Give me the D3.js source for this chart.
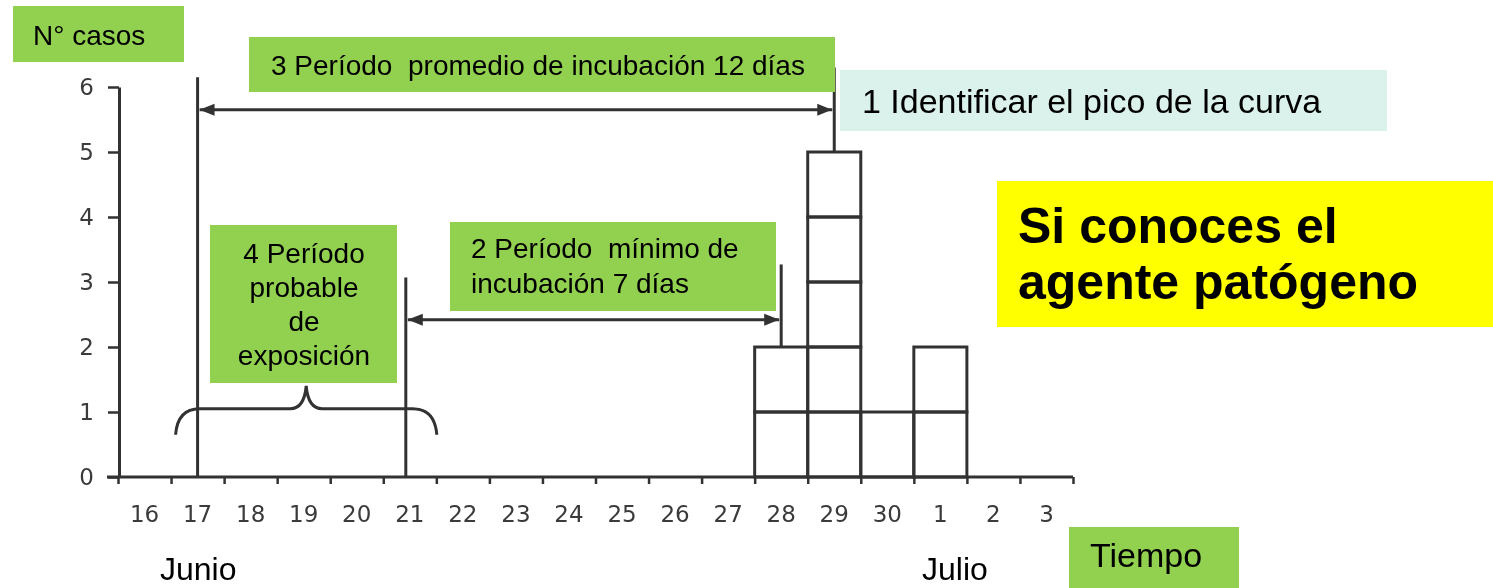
<!DOCTYPE html>
<html>
<head>
<meta charset="utf-8">
<script src="https://cdn.jsdelivr.net/npm/d3@7"></script>
<style>
  html, body { margin: 0; padding: 0; background: #fff; }
  svg { display: block; }
  text { font-family: "Liberation Sans", Arial, sans-serif; }
</style>
</head>
<body>
<svg id="chart" width="1493" height="588"></svg>
<script>
// Days of the outbreak (June 16 – July 3)
const categories = ["16","17","18","19","20","21","22","23","24","25","26","27","28","29","30","1","2","3"];
// Number of cases by day of onset
const cases = [0,0,0,0,0,0,0,0,0,0,0,0,2,5,1,2,0,0];
// Y axis ticks
const yTicks = [0,1,2,3,4,5,6];
// Key days used by the annotations
const exposureStart = "17";
const exposureEnd = "21";
const firstCaseDay = "28";
const peakDay = "29";

const svg = d3.select("#chart");
const ink = "#333";
const axisFont = "DejaVu Sans, Verdana, sans-serif";

const x = d3.scaleBand().domain(categories).range([118, 1073]).paddingInner(0).paddingOuter(0);
const xEdge = d3.scaleLinear().domain([0, categories.length]).range([118, 1073]);
const y = d3.scaleLinear().domain([0, 6]).range([477, 87]);
const cx = d => x(d) + x.bandwidth() / 2;

// soft look of the plotted part
const defs = svg.append("defs");
defs.append("filter").attr("id", "soft")
  .append("feGaussianBlur").attr("stdDeviation", 0.7);
defs.append("marker")
  .attr("id", "arrow")
  .attr("viewBox", "0 0 10 10")
  .attr("refX", 10).attr("refY", 5)
  .attr("markerWidth", 5).attr("markerHeight", 5)
  .attr("markerUnits", "strokeWidth")
  .attr("orient", "auto-start-reverse")
  .append("path").attr("d", "M0,1 L10,5 L0,9 Z").attr("fill", ink);

const plot = svg.append("g").attr("filter", "url(#soft)");

// X axis: ticks on day boundaries, labels centred on each day
const xTickAxis = plot.append("g").attr("transform", `translate(0,${y(0)})`)
  .call(d3.axisBottom(xEdge).tickValues(d3.range(categories.length + 1)).tickFormat("").tickSize(7).tickSizeOuter(0));
xTickAxis.select(".domain").remove();
plot.append("line")
  .attr("x1", 107).attr("x2", xEdge(categories.length))
  .attr("y1", y(0)).attr("y2", y(0))
  .attr("stroke", ink).attr("stroke-width", 3);
xTickAxis.selectAll(".tick line").attr("stroke", ink).attr("stroke-width", 2.5);

const xLabelAxis = plot.append("g").attr("transform", `translate(0,${y(0)})`)
  .call(d3.axisBottom(x).tickSize(0).tickPadding(29));
xLabelAxis.attr("font-size", null).attr("font-family", null);
xLabelAxis.select(".domain").remove();
xLabelAxis.selectAll("text")
  .style("font-size", "23px").style("font-family", axisFont)
  .attr("fill", "#3a3a3a");

// Y axis
const yAxis = plot.append("g").attr("transform", "translate(119,0)")
  .call(d3.axisLeft(y).tickValues(yTicks).tickFormat(d3.format("d")).tickSize(11).tickSizeOuter(0).tickPadding(14));
yAxis.attr("font-size", null).attr("font-family", null);
yAxis.select(".domain").attr("stroke", ink).attr("stroke-width", 3);
yAxis.selectAll(".tick line").attr("stroke", ink).attr("stroke-width", 2.5);
yAxis.selectAll("text")
  .style("font-size", "23px").style("font-family", axisFont)
  .attr("fill", "#3a3a3a");

// Histogram: one square per case
const squares = [];
categories.forEach((c, i) => {
  for (let k = 0; k < cases[i]; k++) squares.push({ day: c, k });
});
plot.append("g").selectAll("rect").data(squares).join("rect")
  .attr("x", d => x(d.day))
  .attr("y", d => y(d.k + 1))
  .attr("width", x.bandwidth())
  .attr("height", d => y(d.k) - y(d.k + 1))
  .attr("fill", "none")
  .attr("stroke", ink).attr("stroke-width", 3);

const line = (x1, y1, x2, y2, arrows) => {
  const l = plot.append("line")
    .attr("x1", x1).attr("y1", y1).attr("x2", x2).attr("y2", y2)
    .attr("stroke", ink).attr("stroke-width", 3);
  if (arrows) l.attr("marker-start", "url(#arrow)").attr("marker-end", "url(#arrow)");
  return l;
};

// Exposure window limits
line(cx(exposureStart), y(6.15), cx(exposureStart), y(0));
line(cx(exposureEnd) - 4, y(3.07), cx(exposureEnd) - 4, y(0));
// Peak marker and mean incubation period
line(cx(peakDay), y(6.3), cx(peakDay), y(5));
line(cx(exposureStart) + 2, y(5.65), cx(peakDay) - 2, y(5.65), true);
// First case marker and minimum incubation period
line(cx(firstCaseDay), y(3.27), cx(firstCaseDay), y(2));
line(cx(exposureEnd) - 2, y(2.42), cx(firstCaseDay) - 2, y(2.42), true);

// Brace spanning the probable exposure period
const bx0 = cx(exposureStart) - 22, bx1 = cx(exposureEnd) + 27;
const bm = (bx0 + bx1) / 2, by = y(1.05), bTip = y(1.4), bEnd = y(0.65);
plot.append("path")
  .attr("d", `M${bx0},${bEnd} Q${bx0 + 2},${by} ${bx0 + 24},${by} L${bm - 16},${by} Q${bm - 2},${by} ${bm},${bTip}
              Q${bm + 2},${by} ${bm + 16},${by} L${bx1 - 24},${by} Q${bx1 - 2},${by} ${bx1},${bEnd}`)
  .attr("fill", "none").attr("stroke", ink).attr("stroke-width", 3);

// Text boxes
const green = "#92d050";
function box(x0, y0, w, h, fill, lines, opt) {
  const g = svg.append("g");
  g.append("rect").attr("x", x0).attr("y", y0).attr("width", w).attr("height", h).attr("fill", fill);
  const t = g.append("text")
    .attr("font-size", opt.size).attr("font-weight", opt.bold ? "bold" : "normal")
    .attr("fill", "#000").attr("text-anchor", opt.anchor || "start")
    .attr("xml:space", "preserve").style("white-space", "pre");
  lines.forEach((s, i) => {
    t.append("tspan").attr("x", opt.tx).attr("y", opt.ty + i * (opt.lh || 0)).text(s);
  });
}

box(13, 6, 171, 56, green, ["N° casos"], { size: 28, tx: 33, ty: 45 });
box(249, 37, 586, 55, green, ["3 Período  promedio de incubación 12 días"], { size: 28, tx: 271, ty: 75 });
box(840, 70, 547, 61, "#daf2eb", ["1 Identificar el pico de la curva"], { size: 34, tx: 862, ty: 113 });
box(997, 181, 496, 146, "#ffff00", ["Si conoces el", "agente patógeno"], { size: 50, bold: true, tx: 1018, ty: 243, lh: 56 });
box(210, 225, 187, 158, green, ["4 Período", "probable", "de", "exposición"], { size: 28, tx: 304, ty: 263, lh: 34, anchor: "middle" });
box(450, 222, 326, 89, green, ["2 Período  mínimo de", "incubación 7 días"], { size: 28, tx: 471, ty: 258, lh: 35 });
box(1069, 527, 170, 61, green, ["Tiempo"], { size: 34, tx: 1090, ty: 567 });

// Month labels
svg.append("text").attr("x", 160).attr("y", 580).attr("font-size", 32).attr("fill", "#000").text("Junio");
svg.append("text").attr("x", 922).attr("y", 580).attr("font-size", 32).attr("fill", "#000").text("Julio");
</script>
</body>
</html>
